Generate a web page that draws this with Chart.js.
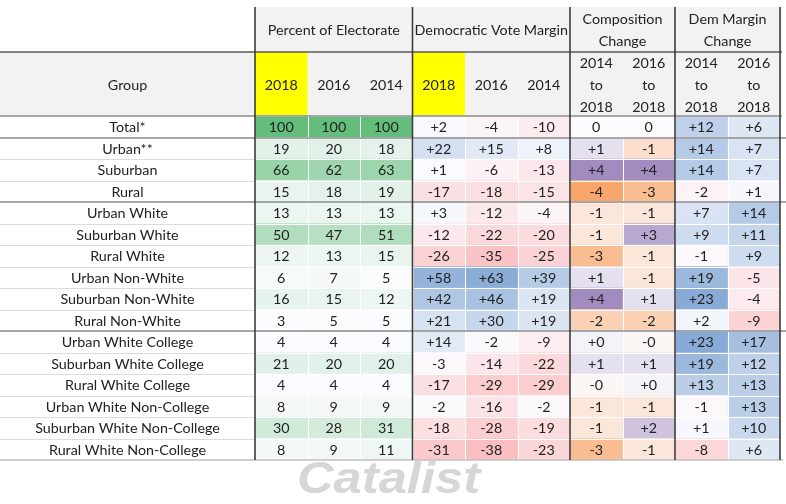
<!DOCTYPE html>
<html><head><meta charset="utf-8">
<script src="https://cdn.jsdelivr.net/npm/chart.js@4"></script>
<style>html,body{margin:0;padding:0;background:#fff}#wrap{width:786px;height:504px}</style>
</head><body><div id="wrap"><canvas id="c" width="786" height="504"></canvas></div>
<script>
// ---------- data ----------
const groups = ["Total*","Urban**","Suburban","Rural","Urban White","Suburban White","Rural White","Urban Non-White","Suburban Non-White","Rural Non-White","Urban White College","Suburban White College","Rural White College","Urban White Non-College","Suburban White Non-College","Rural White Non-College"];
const sectionTitles = [["Percent of Electorate"],["Democratic Vote Margin"],["Composition","Change"],["Dem Margin","Change"]];
const sectionSpans = [3,3,2,2];
const columnLabels = [["2018"],["2016"],["2014"],["2018"],["2016"],["2014"],["2014","to","2018"],["2016","to","2018"],["2014","to","2018"],["2016","to","2018"]];
const highlightCols = [0,3];
const groupHeader = "Group";
const sectionBreakRows = [0,3,9];

const pct2018 = [100,19,66,15,13,50,12,6,16,3,4,21,4,8,30,8];
const pct2016 = [100,20,62,18,13,47,13,7,15,5,4,20,4,9,28,9];
const pct2014 = [100,18,63,19,13,51,15,5,12,5,4,20,4,9,31,11];
const dem2018 = [2,22,1,-17,3,-12,-26,58,42,21,14,-3,-17,-2,-18,-31];
const dem2016 = [-4,15,-6,-18,-12,-22,-35,63,46,30,-2,-14,-29,-16,-28,-38];
const dem2014 = [-10,8,-13,-15,-4,-20,-25,39,19,19,-9,-22,-29,-2,-19,-23];
const comp1418 = [0,1,4,-4,-1,-1,-3,1,4,-2,0.3,1,-0.3,-1,-1,-3];
const comp1618 = [0,-1.4,4,-3,-1,3,-1,-1,1,-2,-0.3,1,0.3,-1,2,-1];
const dmc1418 = [12,14,14,-2,7,9,-1,19,23,2,23,19,13,-1,1,-8];
const dmc1618 = [6,7,7,1,14,11,9,-5,-4,-9,17,12,13,13,10,6];
const watermark = "Catalist";

const columns = [pct2018,pct2016,pct2014,dem2018,dem2016,dem2014,comp1418,comp1618,dmc1418,dmc1618];
const columnKinds = ['pct','pct','pct','dvm','dvm','dvm','comp','comp','dmc','dmc'];

// ---------- colour scales ----------
const WHITE = [252,252,255];
function mix(c,t){
  t = Math.max(0,Math.min(1,t));
  const r = Math.round(WHITE[0]+(c[0]-WHITE[0])*t);
  const g = Math.round(WHITE[1]+(c[1]-WHITE[1])*t);
  const b = Math.round(WHITE[2]+(c[2]-WHITE[2])*t);
  return `rgb(${r},${g},${b})`;
}
const RED=[248,105,107], BLUE=[90,138,198], GREEN=[99,190,123], ORANGE=[249,160,97], PURPLE=[155,130,185];
function cellColor(kind,v){
  if(kind==='pct') return mix(GREEN,(v-3)/97);
  if(kind==='dvm') return mix(v<0?RED:BLUE,Math.abs(v)/90);
  if(kind==='comp') return mix(v<0?ORANGE:PURPLE,Math.abs(v)/4.3);
  return mix(v<0?RED:BLUE,Math.abs(v)/32);
}
function fmt(kind,v){
  if(kind==='pct') return String(v);
  if(v===0) return '0';
  return (v>0?'+':'-')+Math.round(Math.abs(v));
}

const FONT = "Lato, 'Open Sans', sans-serif";
const TEXT = '#222222';

const tablePlugin = {
  id:'table',
  beforeDraw(chart){
    const {ctx, chartArea:a, scales:{x}} = chart;
    ctx.save();
    ctx.fillStyle='#ffffff'; ctx.fillRect(0,0,chart.width,chart.height);
    ctx.fillStyle='#f2f2f2';
    ctx.fillRect(a.left,7,a.right+2-a.left,52-7);
    ctx.fillRect(0,52,a.right+2,a.top-52);
    ctx.fillStyle='#ffff00';
    highlightCols.forEach(c=>{
      const x0=x.getPixelForValue(c), x1=x.getPixelForValue(c+1);
      ctx.fillRect(x0,52,x1-x0,a.top-52);
    });
    ctx.restore();
  },
  afterDatasetsDraw(chart){
    const {ctx, chartArea:a, scales:{x,y}} = chart;
    ctx.save();
    // white separators between sub-columns
    ctx.strokeStyle='#ffffff'; ctx.lineWidth=1;
    for(let c=1;c<10;c++){
      const px=Math.round(x.getPixelForValue(c))+0.5;
      ctx.beginPath(); ctx.moveTo(px,a.top); ctx.lineTo(px,a.bottom); ctx.stroke();
    }
    // row boundaries
    for(let i=1;i<groups.length;i++){
      const py=(y.getPixelForValue(i-1)+y.getPixelForValue(i))/2;
      if(sectionBreakRows.includes(i-1)){
        ctx.strokeStyle='#a6a6a6'; ctx.lineWidth=2;
        ctx.beginPath(); ctx.moveTo(0,Math.round(py)); ctx.lineTo(chart.width,Math.round(py)); ctx.stroke();
      } else {
        const yy=Math.round(py)+0.5;
        ctx.lineWidth=1;
        ctx.strokeStyle='#dcdcdc';
        ctx.beginPath(); ctx.moveTo(0,yy); ctx.lineTo(a.left,yy); ctx.stroke();
        ctx.strokeStyle='#ffffff';
        ctx.beginPath(); ctx.moveTo(a.left,yy); ctx.lineTo(a.right,yy); ctx.stroke();
      }
    }
    // header / bottom lines
    ctx.strokeStyle='#a6a6a6'; ctx.lineWidth=2;
    ctx.beginPath(); ctx.moveTo(0,a.top); ctx.lineTo(a.right+2,a.top); ctx.stroke();
    ctx.strokeStyle='#bfbfbf'; ctx.lineWidth=1.5;
    ctx.beginPath(); ctx.moveTo(0,a.bottom); ctx.lineTo(chart.width-3,a.bottom); ctx.stroke();
    ctx.strokeStyle='#5a5a5a'; ctx.lineWidth=1.5;
    ctx.beginPath(); ctx.moveTo(0,52); ctx.lineTo(a.right+2,52); ctx.stroke();
    // section vertical lines
    let c0=0; const bounds=[0];
    sectionSpans.forEach(s=>{c0+=s; bounds.push(c0);});
    ctx.strokeStyle='#3c3c3c'; ctx.lineWidth=1.6;
    bounds.forEach(c=>{
      const px=x.getPixelForValue(c);
      ctx.beginPath(); ctx.moveTo(px,7); ctx.lineTo(px,a.bottom); ctx.stroke();
    });
    // cell texts
    ctx.fillStyle=TEXT; ctx.font=`14.3px ${FONT}`; ctx.textAlign='center'; ctx.textBaseline='middle';
    chart.data.datasets.forEach((ds,di)=>{
      chart.getDatasetMeta(di).data.forEach((el,j)=>{
        const p=el.getCenterPoint();
        ctx.fillText(fmt(ds.kind,ds.values[j]),p.x,p.y+1);
      });
    });
    // group labels
    groups.forEach((g,i)=>{
      ctx.fillText(g,a.left/2,y.getPixelForValue(i)+1);
    });
    // header texts
    ctx.fillText(groupHeader,a.left/2,(52+a.top)/2+1);
    columnLabels.forEach((lines,c)=>{
      const cx=x.getPixelForValue(c+0.5);
      const cy=(52+a.top)/2+1;
      lines.forEach((t,k)=>ctx.fillText(t,cx,cy+(k-(lines.length-1)/2)*22));
    });
    let s0=0;
    sectionTitles.forEach((lines,si)=>{
      const cx=(x.getPixelForValue(s0)+x.getPixelForValue(s0+sectionSpans[si]))/2;
      s0+=sectionSpans[si];
      const cy=(7+52)/2+1;
      lines.forEach((t,k)=>ctx.fillText(t,cx,cy+(k-(lines.length-1)/2)*22));
    });
    // watermark
    ctx.font="italic bold 45px 'Liberation Sans', Arial, sans-serif";
    ctx.textAlign='left'; ctx.textBaseline='alphabetic';
    const w=ctx.measureText(watermark).width;
    const grad=ctx.createLinearGradient(0,462,0,494);
    grad.addColorStop(0,'#d6d6d6'); grad.addColorStop(1,'#efefef');
    ctx.fillStyle=grad;
    ctx.translate(297,493); ctx.scale(183/w,1);
    ctx.fillText(watermark,0,0);
    ctx.restore();
  }
};

new Chart(document.getElementById('c'),{
  type:'bar',
  data:{
    labels:groups,
    datasets:columns.map((vals,c)=>({
      data:vals.map(()=>[c,c+1]),
      backgroundColor:vals.map(v=>cellColor(columnKinds[c],v)),
      borderWidth:0, barPercentage:1, categoryPercentage:1, grouped:false,
      values:vals, kind:columnKinds[c]
    }))
  },
  options:{
    indexAxis:'y', responsive:false, animation:false, devicePixelRatio:1,
    layout:{padding:{top:116,bottom:44,left:255,right:6}},
    plugins:{legend:{display:false},tooltip:{enabled:false}},
    scales:{
      x:{type:'linear',min:0,max:10,display:false},
      y:{type:'category',offset:true,display:false}
    }
  },
  plugins:[tablePlugin]
});
</script></body></html>
